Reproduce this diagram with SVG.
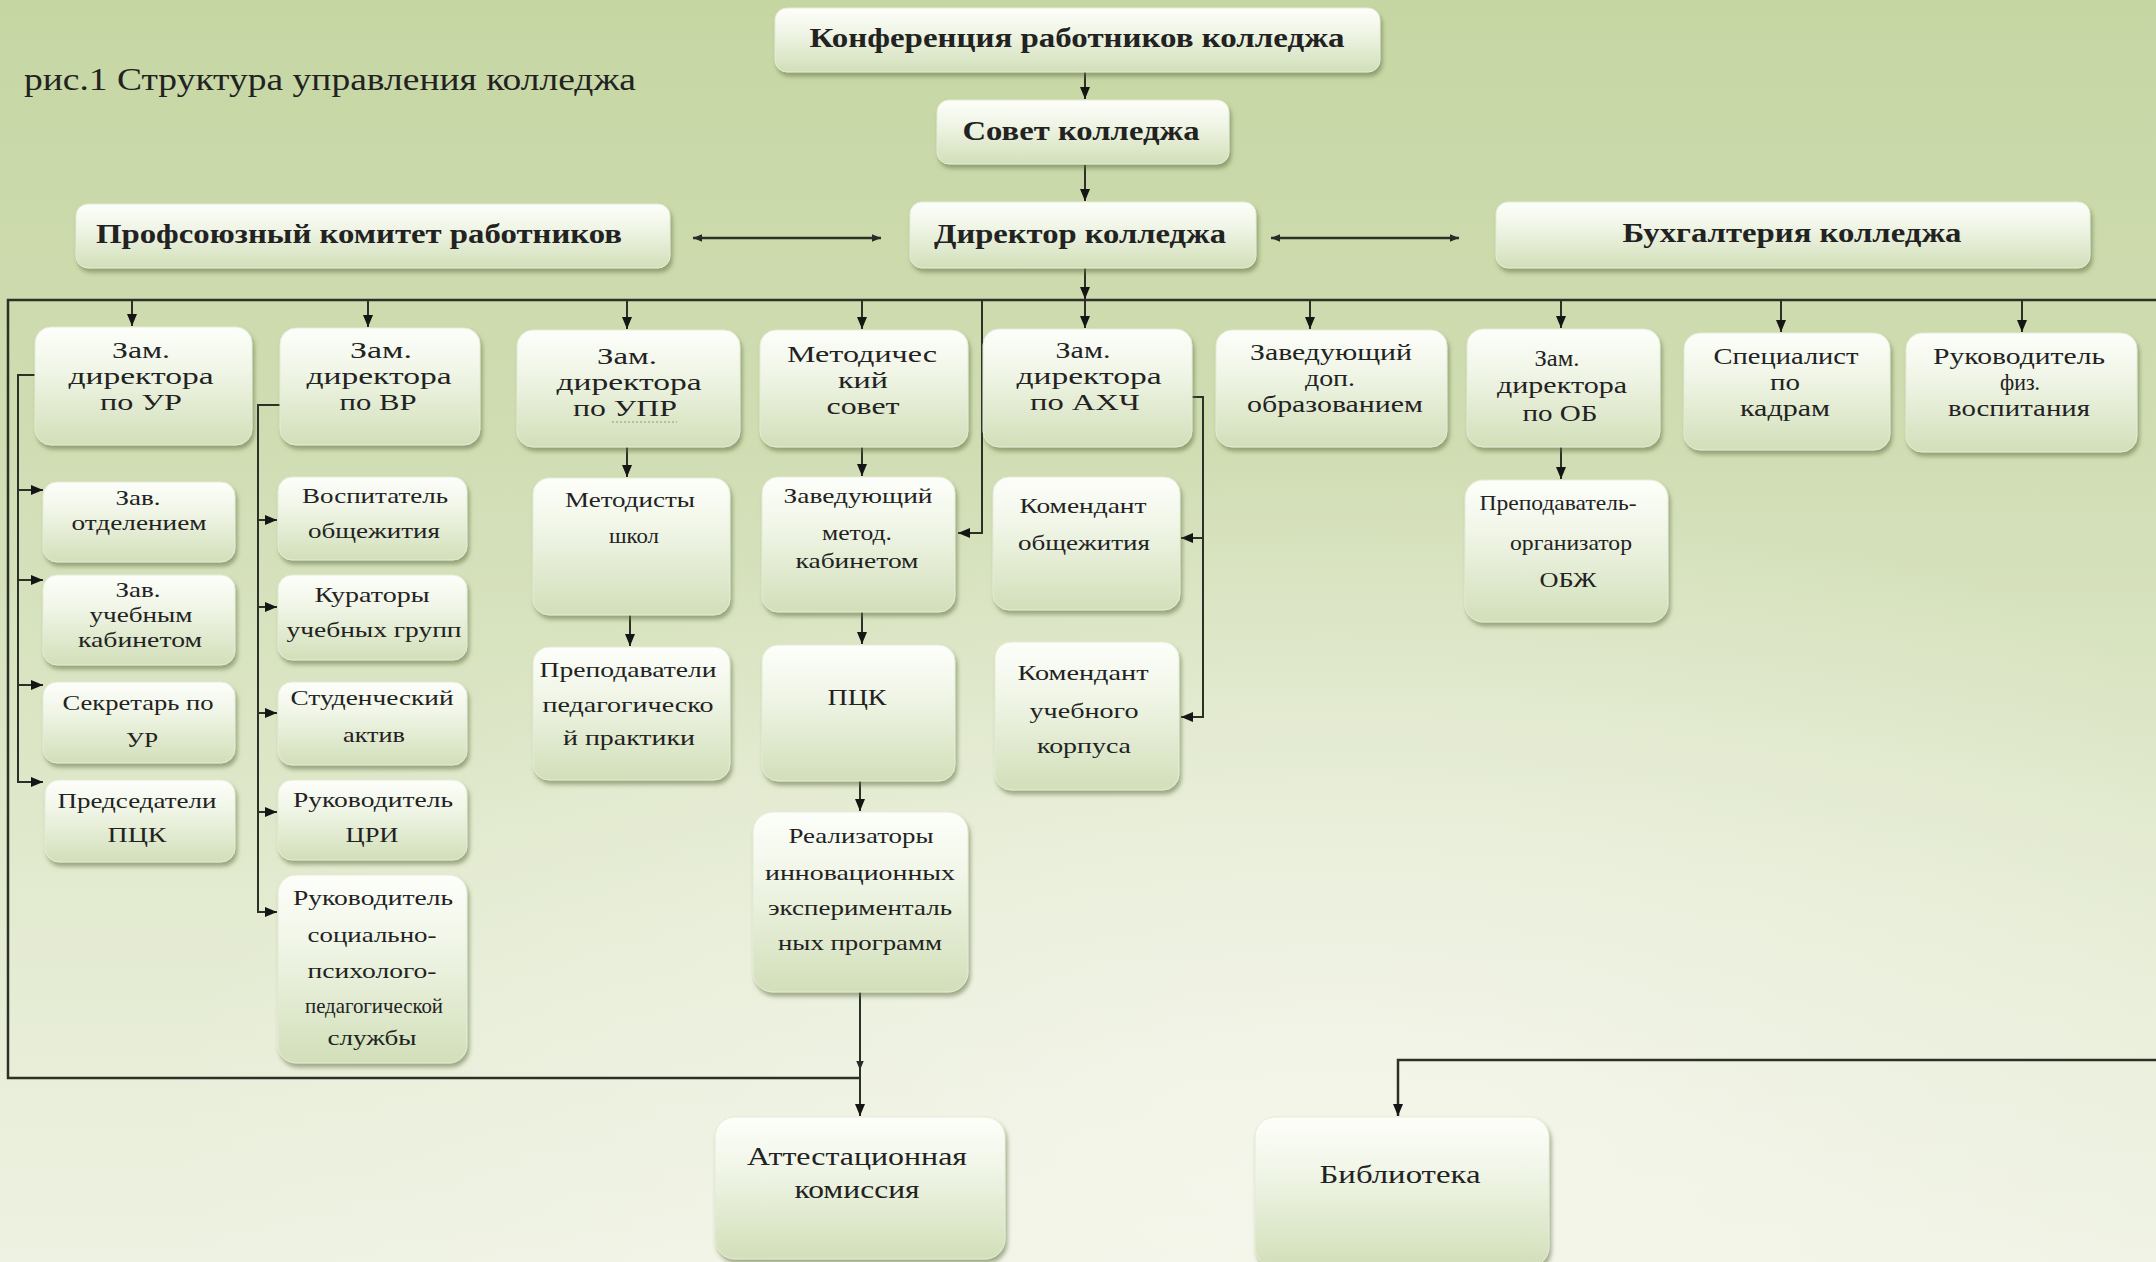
<svg xmlns="http://www.w3.org/2000/svg" width="2156" height="1262" viewBox="0 0 2156 1262">
<defs>
<linearGradient id="bg" x1="0" y1="0" x2="0" y2="1">
<stop offset="0" stop-color="#c6d6a3"/>
<stop offset="0.35" stop-color="#d0ddb3"/>
<stop offset="0.7" stop-color="#e2eacf"/>
<stop offset="1" stop-color="#eef2e2"/>
</linearGradient>
<radialGradient id="glow" cx="0.62" cy="0.92" r="0.55">
<stop offset="0" stop-color="#f6f7ee" stop-opacity="0.8"/>
<stop offset="1" stop-color="#f6f7ee" stop-opacity="0"/>
</radialGradient>
<linearGradient id="boxg" x1="0" y1="0" x2="0" y2="1">
<stop offset="0" stop-color="#fdfefa"/>
<stop offset="0.35" stop-color="#f1f6e8"/>
<stop offset="1" stop-color="#d2dfb9"/>
</linearGradient>
<filter id="sh" x="-10%" y="-10%" width="125%" height="130%">
<feDropShadow dx="2" dy="4" stdDeviation="2" flood-color="#5f7040" flood-opacity="0.55"/>
</filter>
<marker id="ah" viewBox="0 0 12 10" refX="12" refY="5" markerWidth="12" markerHeight="10" markerUnits="userSpaceOnUse" orient="auto-start-reverse">
<path d="M0,0 L12,5 L0,10 z" fill="#151515"/>
</marker>
<marker id="ahs" viewBox="0 0 12 10" refX="12" refY="5" markerWidth="9" markerHeight="8" markerUnits="userSpaceOnUse" orient="auto-start-reverse">
<path d="M0,0 L12,5 L0,10 z" fill="#2a2a2a"/>
</marker>
<style>
.box{fill:url(#boxg);stroke:#e4ecd6;stroke-width:1;filter:url(#sh);}
.t{font-family:"Liberation Serif","Times New Roman",serif;fill:#222;text-anchor:middle;}
.b{font-weight:bold;font-size:28px;}
.s26{font-size:26px;}
.s23{font-size:23px;}
.s22{font-size:22px;}
.s21{font-size:21px;}
.c{fill:none;stroke:#2c3127;stroke-width:2;}
.cf{fill:none;stroke:#2c3127;stroke-width:2.5;}
.a{marker-end:url(#ah);}
</style>
</defs>
<rect x="0" y="0" width="2156" height="1262" fill="url(#bg)"/>
<rect x="0" y="0" width="2156" height="1262" fill="url(#glow)"/>

<text class="t" x="24" y="90" style="font-size:32px;text-anchor:start" textLength="612" lengthAdjust="spacingAndGlyphs">рис.1 Структура управления колледжа</text>

<g id="connectors">
<path class="c a" d="M1085 72 V99"/>
<path class="c a" d="M1085 165 V201"/>
<path class="c a" d="M1085 268 V299"/>
<path class="cf" d="M693 238 H881" marker-start="url(#ahs)" marker-end="url(#ahs)"/>
<path class="cf" d="M1271 238 H1459" marker-start="url(#ahs)" marker-end="url(#ahs)"/>
<path class="cf" d="M2160 300 H8 V1078 H860"/>
<path class="c a" d="M132 300 V326"/>
<path class="c a" d="M368 300 V327"/>
<path class="c a" d="M627 300 V329"/>
<path class="c a" d="M862 300 V329"/>
<path class="c a" d="M1085 300 V328"/>
<path class="c a" d="M1310 300 V329"/>
<path class="c a" d="M1561 300 V328"/>
<path class="c a" d="M1781 300 V332"/>
<path class="c a" d="M2022 300 V332"/>
<path class="c a" d="M982 300 V533 H958"/>
<path class="c a" d="M35 375 H18 V782 H43"/>
<path class="c a" d="M18 490 H43"/>
<path class="c a" d="M18 580 H43"/>
<path class="c a" d="M18 685 H43"/>
<path class="c a" d="M280 405 H258 V912 H277"/>
<path class="c a" d="M258 520 H277"/>
<path class="c a" d="M258 607 H277"/>
<path class="c a" d="M258 713 H277"/>
<path class="c a" d="M258 812 H277"/>
<path class="c a" d="M627 447 V477"/>
<path class="c a" d="M630 615 V646"/>
<path class="c a" d="M862 447 V476"/>
<path class="c a" d="M862 612 V644"/>
<path class="c a" d="M860 781 V811"/>
<path class="c" d="M860 992 V1070" marker-end="url(#ahs)"/>
<path class="c a" d="M860 1070 V1116"/>
<path class="c a" d="M1192 397 H1203 V717 H1181"/>
<path class="c a" d="M1203 538 H1181"/>
<path class="c a" d="M1561 447 V479"/>
<path class="cf a" d="M2160 1060 H1398 V1116"/>
</g>

<g id="n-konf"><rect class="box" x="775" y="8" width="605" height="64" rx="12"/>
<text class="t b" x="1077" y="47" textLength="535" lengthAdjust="spacingAndGlyphs">Конференция работников колледжа</text></g>
<g id="n-sovet"><rect class="box" x="937" y="100" width="292" height="64" rx="12"/>
<text class="t b" x="1081" y="140" textLength="237" lengthAdjust="spacingAndGlyphs">Совет колледжа</text></g>
<g id="n-dir"><rect class="box" x="910" y="202" width="346" height="66" rx="12"/>
<text class="t b" x="1080" y="243" textLength="292" lengthAdjust="spacingAndGlyphs">Директор колледжа</text></g>
<g id="n-prof"><rect class="box" x="76" y="204" width="594" height="64" rx="12"/>
<text class="t b" x="359" y="243" textLength="526" lengthAdjust="spacingAndGlyphs">Профсоюзный комитет работников</text></g>
<g id="n-buh"><rect class="box" x="1496" y="202" width="594" height="66" rx="12"/>
<text class="t b" x="1792" y="242" textLength="339" lengthAdjust="spacingAndGlyphs">Бухгалтерия колледжа</text></g>

<g id="n-ur"><rect class="box" x="35" y="327" width="217" height="118" rx="16"/>
<text class="t s23" x="141" y="358" textLength="58" lengthAdjust="spacingAndGlyphs">Зам.</text>
<text class="t s23" x="141" y="384" textLength="145" lengthAdjust="spacingAndGlyphs">директора</text>
<text class="t s23" x="141" y="410" textLength="82" lengthAdjust="spacingAndGlyphs">по УР</text></g>
<g id="n-vr"><rect class="box" x="280" y="328" width="200" height="117" rx="16"/>
<text class="t s23" x="381" y="358" textLength="62" lengthAdjust="spacingAndGlyphs">Зам.</text>
<text class="t s23" x="379" y="384" textLength="145" lengthAdjust="spacingAndGlyphs">директора</text>
<text class="t s23" x="378" y="410" textLength="77" lengthAdjust="spacingAndGlyphs">по ВР</text></g>
<g id="n-upr"><rect class="box" x="517" y="330" width="223" height="117" rx="16"/>
<text class="t s23" x="627" y="364" textLength="60" lengthAdjust="spacingAndGlyphs">Зам.</text>
<text class="t s23" x="629" y="390" textLength="145" lengthAdjust="spacingAndGlyphs">директора</text>
<text class="t s23" x="625" y="416" textLength="104" lengthAdjust="spacingAndGlyphs">по УПР</text>
<line x1="612" y1="422" x2="677" y2="422" stroke="#8a9a6a" stroke-width="1" stroke-dasharray="2 2"/></g>
<g id="n-mets"><rect class="box" x="760" y="330" width="208" height="117" rx="16"/>
<text class="t s23" x="862" y="362" textLength="150" lengthAdjust="spacingAndGlyphs">Методичес</text>
<text class="t s23" x="863" y="388" textLength="50" lengthAdjust="spacingAndGlyphs">кий</text>
<text class="t s23" x="863" y="414" textLength="73" lengthAdjust="spacingAndGlyphs">совет</text></g>
<g id="n-ahch"><rect class="box" x="983" y="329" width="209" height="118" rx="16"/>
<text class="t s23" x="1083" y="358" textLength="55" lengthAdjust="spacingAndGlyphs">Зам.</text>
<text class="t s23" x="1089" y="384" textLength="145" lengthAdjust="spacingAndGlyphs">директора</text>
<text class="t s23" x="1085" y="410" textLength="110" lengthAdjust="spacingAndGlyphs">по АХЧ</text></g>
<g id="n-dop"><rect class="box" x="1216" y="330" width="231" height="117" rx="16"/>
<text class="t s23" x="1331" y="360" textLength="162" lengthAdjust="spacingAndGlyphs">Заведующий</text>
<text class="t s23" x="1330" y="386" textLength="50" lengthAdjust="spacingAndGlyphs">доп.</text>
<text class="t s23" x="1335" y="412" textLength="176" lengthAdjust="spacingAndGlyphs">образованием</text></g>
<g id="n-ob"><rect class="box" x="1467" y="329" width="193" height="118" rx="16"/>
<text class="t s23" x="1557" y="366" textLength="45" lengthAdjust="spacingAndGlyphs">Зам.</text>
<text class="t s23" x="1562" y="393" textLength="130" lengthAdjust="spacingAndGlyphs">директора</text>
<text class="t s23" x="1560" y="421" textLength="75" lengthAdjust="spacingAndGlyphs">по ОБ</text></g>
<g id="n-kadr"><rect class="box" x="1684" y="333" width="206" height="117" rx="16"/>
<text class="t s23" x="1786" y="364" textLength="145" lengthAdjust="spacingAndGlyphs">Специалист</text>
<text class="t s23" x="1785" y="390" textLength="30" lengthAdjust="spacingAndGlyphs">по</text>
<text class="t s23" x="1785" y="416" textLength="90" lengthAdjust="spacingAndGlyphs">кадрам</text></g>
<g id="n-fiz"><rect class="box" x="1906" y="333" width="231" height="119" rx="16"/>
<text class="t s23" x="2019" y="364" textLength="172" lengthAdjust="spacingAndGlyphs">Руководитель</text>
<text class="t s23" x="2020" y="390" textLength="40" lengthAdjust="spacingAndGlyphs">физ.</text>
<text class="t s23" x="2019" y="416" textLength="142" lengthAdjust="spacingAndGlyphs">воспитания</text></g>

<g id="n-zavotd"><rect class="box" x="43" y="482" width="192" height="80" rx="14"/>
<text class="t s22" x="138" y="505" textLength="45" lengthAdjust="spacingAndGlyphs">Зав.</text>
<text class="t s22" x="139" y="530" textLength="135" lengthAdjust="spacingAndGlyphs">отделением</text></g>
<g id="n-zavkab"><rect class="box" x="43" y="575" width="192" height="90" rx="14"/>
<text class="t s22" x="138" y="597" textLength="45" lengthAdjust="spacingAndGlyphs">Зав.</text>
<text class="t s22" x="141" y="622" textLength="103" lengthAdjust="spacingAndGlyphs">учебным</text>
<text class="t s22" x="140" y="647" textLength="124" lengthAdjust="spacingAndGlyphs">кабинетом</text></g>
<g id="n-sekr"><rect class="box" x="43" y="682" width="192" height="81" rx="14"/>
<text class="t s22" x="138" y="710" textLength="151" lengthAdjust="spacingAndGlyphs">Секретарь по</text>
<text class="t s22" x="142" y="747" textLength="32" lengthAdjust="spacingAndGlyphs">УР</text></g>
<g id="n-pred"><rect class="box" x="45" y="780" width="190" height="82" rx="14"/>
<text class="t s22" x="137" y="808" textLength="159" lengthAdjust="spacingAndGlyphs">Председатели</text>
<text class="t s22" x="137" y="842" textLength="59" lengthAdjust="spacingAndGlyphs">ПЦК</text></g>

<g id="n-vosp"><rect class="box" x="278" y="477" width="189" height="83" rx="14"/>
<text class="t s22" x="375" y="503" textLength="146" lengthAdjust="spacingAndGlyphs">Воспитатель</text>
<text class="t s22" x="374" y="538" textLength="132" lengthAdjust="spacingAndGlyphs">общежития</text></g>
<g id="n-kurat"><rect class="box" x="278" y="575" width="189" height="85" rx="14"/>
<text class="t s22" x="372" y="602" textLength="115" lengthAdjust="spacingAndGlyphs">Кураторы</text>
<text class="t s22" x="374" y="637" textLength="175" lengthAdjust="spacingAndGlyphs">учебных групп</text></g>
<g id="n-stud"><rect class="box" x="278" y="682" width="189" height="83" rx="14"/>
<text class="t s22" x="372" y="705" textLength="163" lengthAdjust="spacingAndGlyphs">Студенческий</text>
<text class="t s22" x="374" y="742" textLength="62" lengthAdjust="spacingAndGlyphs">актив</text></g>
<g id="n-cri"><rect class="box" x="278" y="780" width="189" height="80" rx="14"/>
<text class="t s22" x="373" y="807" textLength="160" lengthAdjust="spacingAndGlyphs">Руководитель</text>
<text class="t s22" x="372" y="842" textLength="53" lengthAdjust="spacingAndGlyphs">ЦРИ</text></g>
<g id="n-soc"><rect class="box" x="278" y="875" width="189" height="188" rx="18"/>
<text class="t s22" x="373" y="905" textLength="160" lengthAdjust="spacingAndGlyphs">Руководитель</text>
<text class="t s22" x="372" y="942" textLength="129" lengthAdjust="spacingAndGlyphs">социально-</text>
<text class="t s22" x="372" y="978" textLength="129" lengthAdjust="spacingAndGlyphs">психолого-</text>
<text class="t s22" x="374" y="1013" textLength="138" lengthAdjust="spacingAndGlyphs">педагогической</text>
<text class="t s22" x="372" y="1045" textLength="89" lengthAdjust="spacingAndGlyphs">службы</text></g>

<g id="n-metodisty"><rect class="box" x="533" y="478" width="197" height="137" rx="16"/>
<text class="t s22" x="630" y="507" textLength="130" lengthAdjust="spacingAndGlyphs">Методисты</text>
<text class="t s22" x="634" y="543" textLength="50" lengthAdjust="spacingAndGlyphs">школ</text></g>
<g id="n-prepod"><rect class="box" x="533" y="647" width="197" height="133" rx="16"/>
<text class="t s22" x="628" y="677" textLength="177" lengthAdjust="spacingAndGlyphs">Преподаватели</text>
<text class="t s22" x="628" y="712" textLength="171" lengthAdjust="spacingAndGlyphs">педагогическо</text>
<text class="t s22" x="629" y="745" textLength="132" lengthAdjust="spacingAndGlyphs">й практики</text></g>

<g id="n-zavmet"><rect class="box" x="762" y="477" width="193" height="135" rx="16"/>
<text class="t s22" x="858" y="503" textLength="149" lengthAdjust="spacingAndGlyphs">Заведующий</text>
<text class="t s22" x="857" y="540" textLength="70" lengthAdjust="spacingAndGlyphs">метод.</text>
<text class="t s22" x="857" y="568" textLength="123" lengthAdjust="spacingAndGlyphs">кабинетом</text></g>
<g id="n-pck"><rect class="box" x="762" y="645" width="193" height="136" rx="16"/>
<text class="t s23" x="857" y="705" textLength="59" lengthAdjust="spacingAndGlyphs">ПЦК</text></g>
<g id="n-realiz"><rect class="box" x="753" y="812" width="215" height="180" rx="20"/>
<text class="t s22" x="861" y="843" textLength="145" lengthAdjust="spacingAndGlyphs">Реализаторы</text>
<text class="t s22" x="860" y="880" textLength="190" lengthAdjust="spacingAndGlyphs">инновационных</text>
<text class="t s22" x="860" y="915" textLength="184" lengthAdjust="spacingAndGlyphs">эксперименталь</text>
<text class="t s22" x="860" y="950" textLength="164" lengthAdjust="spacingAndGlyphs">ных программ</text></g>
<g id="n-attest"><rect class="box" x="715" y="1117" width="290" height="142" rx="20"/>
<text class="t s26" x="857" y="1165" textLength="220" lengthAdjust="spacingAndGlyphs">Аттестационная</text>
<text class="t s26" x="857" y="1198" textLength="125" lengthAdjust="spacingAndGlyphs">комиссия</text></g>

<g id="n-komobsh"><rect class="box" x="993" y="477" width="187" height="133" rx="16"/>
<text class="t s21" x="1083" y="513" textLength="127" lengthAdjust="spacingAndGlyphs">Комендант</text>
<text class="t s21" x="1084" y="550" textLength="132" lengthAdjust="spacingAndGlyphs">общежития</text></g>
<g id="n-komuch"><rect class="box" x="995" y="642" width="184" height="148" rx="16"/>
<text class="t s21" x="1083" y="680" textLength="131" lengthAdjust="spacingAndGlyphs">Комендант</text>
<text class="t s21" x="1084" y="718" textLength="109" lengthAdjust="spacingAndGlyphs">учебного</text>
<text class="t s21" x="1084" y="753" textLength="94" lengthAdjust="spacingAndGlyphs">корпуса</text></g>

<g id="n-obzh"><rect class="box" x="1465" y="480" width="203" height="142" rx="18"/>
<text class="t s22" x="1558" y="510" textLength="157" lengthAdjust="spacingAndGlyphs">Преподаватель-</text>
<text class="t s22" x="1571" y="550" textLength="122" lengthAdjust="spacingAndGlyphs">организатор</text>
<text class="t s22" x="1568" y="587" textLength="57" lengthAdjust="spacingAndGlyphs">ОБЖ</text></g>

<g id="n-bibl"><rect class="box" x="1255" y="1117" width="294" height="150" rx="20"/>
<text class="t s26" x="1400" y="1183" textLength="161" lengthAdjust="spacingAndGlyphs">Библиотека</text></g>
</svg>
